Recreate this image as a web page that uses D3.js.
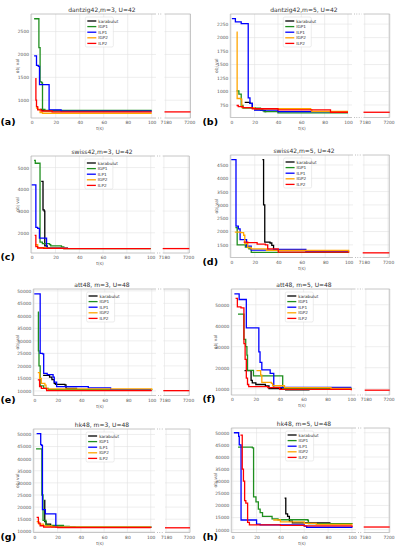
<!DOCTYPE html>
<html>
<head>
<meta charset="utf-8">
<script src="https://cdn.jsdelivr.net/npm/d3@7"></script>
<style>
  body { margin: 0; background: #fff; }
  text { font-family: "DejaVu Sans", sans-serif; }
</style>
</head>
<body>
<svg id="chart" width="404" height="550"></svg>
<script>
// ---- data ----
const seriesNames = ["karabulut", "IGP1", "ILP1", "IGP2", "ILP2"];
const panelLabels = ["(a)", "(b)", "(c)", "(d)", "(e)", "(f)", "(g)", "(h)"];
const titles = [
    "dantzig42,m=3, U=42", "dantzig42,m=5, U=42",
    "swiss42,m=3, U=42", "swiss42,m=5, U=42",
    "att48, m=3, U=48", "att48, m=5, U=48",
    "hk48, m=3, U=48", "hk48, m=5, U=48"
];
const xTicksMain = [0, 20, 40, 60, 80, 100];
const xTicksTail = [7180, 7200];

const yTicksA = [1000, 1500, 2000, 2500];
const yTicksB = [750, 1000, 1250, 1500, 1750, 2000, 2250];
const yTicksC = [2000, 3000, 4000, 5000];
const yTicksD = [1000, 1500, 2000, 2500, 3000, 3500, 4000, 4500];
const yTicksE = [10000, 15000, 20000, 25000, 30000, 35000, 40000, 45000, 50000];
const yTicksF = [10000, 20000, 30000, 40000, 50000];
const yTicksG = [10000, 15000, 20000, 25000, 30000, 35000, 40000, 45000, 50000];
const yTicksH = [10000, 15000, 20000, 25000, 30000, 35000, 40000, 45000, 50000];

// each panel: [karabulut, IGP1, ILP1, IGP2, ILP2] as [t, obj val]
const dataA = [
    [[7, 800], [9, 772], [92, 772]],
    [[2, 2780], [5.5, 2780], [6, 2150], [7, 1400], [8.3, 1380], [9, 800], [11, 776], [100, 776]],
    [[2, 1970], [4, 1760], [5.5, 1740], [6.5, 1340], [14, 1340], [14.5, 790], [24, 790], [24.5, 760], [100, 760]],
    [[3.5, 830], [5, 800], [7, 730], [9, 715], [100, 715]],
    [[3, 1470], [3.5, 1000], [4, 860], [5, 790], [8, 765], [17, 745], [100, 745]]
];
const dataB = [
    [[11.5, 800], [16, 780], [18, 700], [20, 665], [27, 645], [29, 628], [30, 628]],
    [[4.5, 1010], [6.5, 950], [8.5, 740], [10, 690], [25, 650], [28, 625], [40, 605], [100, 605]],
    [[0.5, 2350], [3.5, 2290], [8.5, 2260], [14, 2260], [14.5, 880], [16, 780], [18, 700], [20, 655], [38, 655], [40, 625], [100, 625]],
    [[4.5, 2100], [5, 870], [8, 860], [9, 700], [20, 680], [68, 665], [69, 630], [100, 630]],
    [[4.5, 740], [6, 720], [10, 700], [18, 680], [40, 660], [85, 615], [100, 615]]
];
const dataC = [
    [[8, 4370], [9.5, 3050], [10.5, 3000], [11, 1400], [13, 1290], [30, 1273]],
    [[2, 5330], [3, 5200], [6.5, 5200], [7, 1570], [9, 1500], [15, 1460], [16, 1400], [25, 1350], [27, 1273], [100, 1273]],
    [[0, 4200], [3, 4200], [3.5, 2250], [5, 2200], [6.5, 1750], [12, 1750], [12.5, 1300], [30, 1273]],
    [[3, 1450], [5, 1320], [12, 1290], [30, 1273]],
    [[2.5, 1880], [3.5, 1360], [5, 1300], [10, 1280], [27, 1273], [100, 1273]]
];
const dataD = [
    [[26.5, 4700], [27.5, 3000], [28.5, 1600], [33, 1570], [34.5, 1480], [36, 1300], [46, 1290]],
    [[3.5, 2150], [5, 1500], [11, 1500], [12, 1420], [15, 1350], [17, 1220], [100, 1220]],
    [[0, 4700], [3.5, 4700], [4, 2200], [6, 2100], [7.5, 1700], [12, 1700], [13, 1450], [17, 1300], [35, 1300], [36, 1330], [63, 1330], [63.5, 1270], [100, 1270]],
    [[3, 1980], [8, 1960], [10.5, 1860], [11.5, 1550], [14, 1400], [17, 1350], [29, 1350], [30, 1290], [100, 1230]],
    [[10.5, 1600], [14, 1580], [22, 1530], [29, 1500], [31, 1350], [40, 1230], [100, 1200]]
];
const dataE = [
    [[7.5, 16200], [13, 15500], [15, 14500], [17, 13000], [18, 12600], [26, 12400], [27, 11000], [36, 10500]],
    [[3, 41500], [3.5, 26000], [4, 20000], [5, 12000], [8, 11000], [12, 10500], [100, 10300]],
    [[0, 48800], [4.5, 48800], [5, 25000], [7, 24800], [8, 17000], [11, 16500], [16, 15500], [17, 13500], [19, 11700], [45, 11700], [46, 11200], [64.5, 11200], [65, 10400], [100, 10400]],
    [[3, 17300], [4.5, 15000], [6, 13000], [9, 12300], [10, 10800], [100, 10400]],
    [[3, 14400], [4.5, 11700], [6, 11000], [10.5, 10100], [100, 10100]]
];
const dataF = [
    [[10.5, 18600], [14.5, 18600], [16, 14000], [17, 12800], [20, 12000], [28, 11300], [31, 10000], [45, 9500], [65, 9400]],
    [[5, 45500], [9.5, 45500], [10, 33500], [11.5, 30000], [12.5, 26000], [13, 18700], [17, 18700], [18, 16100], [42, 16100], [42.5, 10200], [100, 10000]],
    [[2, 55200], [5.5, 55200], [6, 52500], [11.5, 52500], [12, 39000], [21.5, 39000], [22.5, 27500], [23.5, 22500], [25, 19000], [31, 19000], [32, 17300], [34.5, 17300], [35, 10600], [100, 10600]],
    [[20.5, 18600], [23.5, 18600], [24, 16500], [25, 13000], [33, 12500], [34, 11400], [43, 11400], [44, 10500], [82, 10500], [83, 10100], [100, 10100]],
    [[3, 53000], [4.5, 49000], [7.5, 48500], [9, 48500], [10, 31500], [11, 24000], [12, 15000], [13, 12000], [14, 11000], [30, 10500], [40, 9700], [100, 9300]]
];
const dataG = [
    [[8.5, 22800], [9, 14000], [10, 13000], [14, 12200], [20, 11900], [35, 11600], [100, 11500]],
    [[1.5, 44000], [4.5, 44000], [6.5, 25000], [7.5, 14500], [10, 12500], [25, 12000], [30, 11700], [100, 11600]],
    [[2, 50300], [5, 50300], [5.5, 45800], [6.3, 45500], [7, 19000], [8.5, 19000], [9.5, 17200], [18, 17200], [18.5, 11700], [100, 11600]],
    [[2, 14000], [4, 13000], [8, 12200], [15, 11800], [100, 11500]],
    [[2, 15800], [3.5, 13400], [5, 12300], [8, 11700], [20, 11500], [100, 11460]]
];
const dataH = [
    [[43.5, 23000], [44.5, 16500], [46, 15500], [47.5, 13500], [50, 12800], [82, 12800]],
    [[4.5, 44100], [16.5, 43800], [17.5, 23500], [19.5, 21500], [21.5, 18500], [23, 17000], [25, 15500], [33, 14500], [38, 14100], [63, 13800], [63.5, 12500], [100, 12300]],
    [[1, 50000], [4.5, 50000], [5, 48500], [5.5, 45000], [7, 14000], [19, 14000], [20, 12300], [23, 12000], [60, 11500], [62, 11000], [100, 10800]],
    [[34, 14000], [40, 13200], [60, 12600], [70, 12200], [100, 12000]],
    [[6.5, 49000], [7.5, 49000], [8, 35000], [9, 30000], [10, 22000], [11, 21000], [12.5, 13000], [14, 12000], [40, 11800], [60, 11600], [100, 11100]]
];
// ILP2 value shown on the 7180-7200 part
const tailValues = [745, 615, 1273, 1200, 10100, 9300, 11460, 11100];

const panels = [dataA, dataB, dataC, dataD, dataE, dataF, dataG, dataH];
const yTicks = [yTicksA, yTicksB, yTicksC, yTicksD, yTicksE, yTicksF, yTicksG, yTicksH];

// ---- layout / style ----
const colors = ["#000000", "#1f8f1f", "#0000ff", "#ffa500", "#ff0000"];
// L: left spine, z: t=0, h: t=100, m: end of main frame, a/b: tail frame
const layout = [
    {x0: 0,   L: 31,    z: 31.7,  h: 151.7, m: 156,   a: 164.5, b: 190.5, top: 14,  bottom: 118},
    {x0: 202, L: 230.3, z: 231.3, h: 348,   m: 352,   a: 363.5, b: 389.7, top: 14,  bottom: 117.5},
    {x0: 0,   L: 31,    z: 31.7,  h: 150.7, m: 155,   a: 162.7, b: 189.3, top: 156, bottom: 253},
    {x0: 202, L: 230.3, z: 231.3, h: 348.7, m: 353,   a: 362.7, b: 389.3, top: 155, bottom: 257.5},
    {x0: 0,   L: 33.3,  z: 34.3,  h: 151.7, m: 156,   a: 163.3, b: 189.3, top: 289, bottom: 395.5},
    {x0: 202, L: 231.3, z: 232,   h: 351.3, m: 355.5, a: 364.7, b: 389.7, top: 289, bottom: 395},
    {x0: 0,   L: 33.3,  z: 34.3,  h: 150.7, m: 155,   a: 165,   b: 190,   top: 429, bottom: 532.5},
    {x0: 202, L: 231.3, z: 232.7, h: 352,   m: 356,   a: 363.7, b: 389.7, top: 428, bottom: 532.5}
];
const gridColor = "#e3e3e3";
const frameColor = "#b8b8b8";
const fmt = d3.format("d");

const svg = d3.select("#chart");

panels.forEach((series, i) => drawPanel(series, i));

function drawPanel(series, i) {
    const g = layout[i];
    const vals = series.flat().map(d => d[1]).concat([tailValues[i]]);
    const lo = d3.min(vals), hi = d3.max(vals), pad = (hi - lo) * 0.05;
    const y = d3.scaleLinear().domain([lo - pad, hi + pad]).range([g.bottom, g.top]);
    const x = d3.scaleLinear().domain([0, 100]).range([g.z, g.h]);
    const xt = d3.scaleLinear().domain([7179, 7201]).range([g.a, g.b]);
    const ticks = yTicks[i].filter(v => v >= y.domain()[0] && v <= y.domain()[1]);

    const p = svg.append("g");

    // grid
    p.selectAll(".hg").data(ticks).enter().append("line")
        .attr("x1", g.L).attr("x2", g.m)
        .attr("y1", d => y(d)).attr("y2", d => y(d))
        .attr("stroke", gridColor).attr("stroke-width", 0.6);
    p.selectAll(".hg2").data(ticks).enter().append("line")
        .attr("x1", g.a).attr("x2", g.b)
        .attr("y1", d => y(d)).attr("y2", d => y(d))
        .attr("stroke", gridColor).attr("stroke-width", 0.6);
    p.selectAll(".vg").data(xTicksMain).enter().append("line")
        .attr("x1", d => x(d)).attr("x2", d => x(d))
        .attr("y1", g.top).attr("y2", g.bottom)
        .attr("stroke", gridColor).attr("stroke-width", 0.6);
    p.selectAll(".vg2").data(xTicksTail).enter().append("line")
        .attr("x1", d => xt(d)).attr("x2", d => xt(d))
        .attr("y1", g.top).attr("y2", g.bottom)
        .attr("stroke", gridColor).attr("stroke-width", 0.6);

    // frames (main: no right spine, tail: no left spine)
    const frame = p.append("g").attr("stroke", frameColor).attr("stroke-width", 0.8).attr("fill", "none");
    frame.append("path").attr("d", `M${g.m},${g.top}H${g.L}V${g.bottom}H${g.m}`);
    frame.append("path").attr("d", `M${g.a},${g.top}H${g.b}V${g.bottom}H${g.a}`);

    // break marks
    [g.top, g.bottom].forEach(yy => {
        p.append("line")
            .attr("x1", g.m + 2).attr("x2", g.a - 2)
            .attr("y1", yy).attr("y2", yy)
            .attr("stroke", "#999").attr("stroke-width", 0.8)
            .attr("stroke-dasharray", "0.8,1.6");
    });

    // axes
    const ya = p.append("g").attr("transform", `translate(${g.L},0)`)
        .call(d3.axisLeft(y).tickValues(ticks).tickFormat(fmt).tickSize(0).tickPadding(2));
    const xa = p.append("g").attr("transform", `translate(0,${g.bottom})`)
        .call(d3.axisBottom(x).tickValues(xTicksMain).tickFormat(fmt).tickSize(0).tickPadding(3));
    const xb = p.append("g").attr("transform", `translate(0,${g.bottom})`)
        .call(d3.axisBottom(xt).tickValues(xTicksTail).tickFormat(fmt).tickSize(0).tickPadding(3));
    [ya, xa, xb].forEach(ax => {
        ax.select(".domain").remove();
        ax.selectAll("text").attr("font-size", 4.4).attr("fill", "#555")
            .attr("font-family", "DejaVu Sans");
    });

    // lines
    const line = d3.line().x(d => x(d[0])).y(d => y(d[1])).curve(d3.curveStepAfter);
    p.selectAll(".series").data(series).enter().append("path")
        .attr("d", line)
        .attr("fill", "none")
        .attr("stroke", (d, k) => colors[k])
        .attr("stroke-width", 1.3);
    const tail = d3.line().x(d => xt(d[0])).y(d => y(d[1]));
    p.append("path")
        .attr("d", tail([[7179, tailValues[i]], [7201, tailValues[i]]]))
        .attr("fill", "none").attr("stroke", colors[4]).attr("stroke-width", 1.3);

    // legend
    const lx = g.L + 0.45 * (g.h - g.L), ly = g.top + 3;
    const leg = p.append("g").attr("transform", `translate(${lx},${ly})`);
    leg.append("rect").attr("width", 28).attr("height", 30).attr("rx", 1.5)
        .attr("fill", "#fff").attr("fill-opacity", 0.85)
        .attr("stroke", "#d8d8d8").attr("stroke-width", 0.5);
    seriesNames.forEach((name, k) => {
        const yy = 4 + k * 5.6;
        leg.append("line").attr("x1", 2).attr("x2", 11).attr("y1", yy).attr("y2", yy)
            .attr("stroke", colors[k]).attr("stroke-width", 1.3);
        leg.append("text").attr("x", 13).attr("y", yy + 1.5)
            .attr("font-size", 4.2).attr("fill", "#333").text(name);
    });

    // title, axis labels, panel label
    const digits = String(d3.max(ticks)).length;
    p.append("text").attr("x", g.x0 + 102).attr("y", g.top - 2.5)
        .attr("text-anchor", "middle").attr("font-size", 6).attr("fill", "#333")
        .text(titles[i]);
    p.append("text").attr("x", g.x0 + 100).attr("y", g.bottom + 12)
        .attr("text-anchor", "middle").attr("font-size", 4.4).attr("fill", "#555")
        .text("t(s)");
    p.append("text")
        .attr("transform", `translate(${g.L - 1.5 - digits * 2.6},${(g.top + g.bottom) / 2}) rotate(-90)`)
        .attr("text-anchor", "middle").attr("font-size", 4.4).attr("fill", "#555")
        .text("obj val");
    p.append("text").attr("x", g.x0 + 0.5).attr("y", g.bottom + 7)
        .attr("font-family", "Liberation Serif, serif").attr("font-weight", "bold")
        .attr("font-size", 9.5).attr("fill", "#000")
        .text(panelLabels[i]);
}
</script>
</body>
</html>
